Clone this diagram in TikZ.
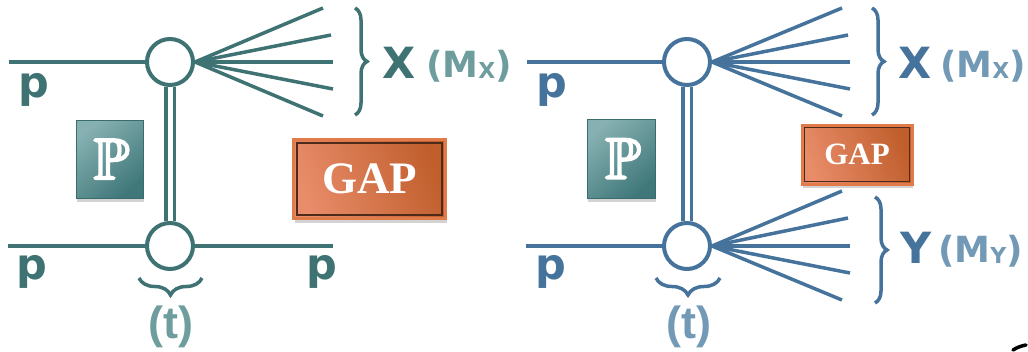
\documentclass[tikz,border=0pt]{standalone}
\usepackage{fontspec}
\setmainfont{Liberation Serif}
\setsansfont{Liberation Sans}
\newfontfamily\labfont{DejaVu Sans}
\usepackage{amssymb}
\usetikzlibrary{decorations.pathreplacing,shadows}
\definecolor{tealD}{HTML}{3F7373}
\definecolor{tealL}{HTML}{6E9D9E}
\definecolor{blueD}{HTML}{45739B}
\definecolor{blueL}{HTML}{7299B5}
\definecolor{pboxL}{HTML}{86B0B1}
\definecolor{pboxD}{HTML}{40787A}
\definecolor{gapL}{HTML}{E88C69}
\definecolor{gapD}{HTML}{C05E2C}
\definecolor{gapEdge}{HTML}{E27B4A}
\definecolor{gapIn}{HTML}{4E2A1B}
\newcommand{\boldP}{{\special{pdf:literal direct 2 Tr 2.2 w 1 1 1 RG}$\mathbb{P}$\special{pdf:literal direct 0 Tr}}}
\begin{document}
\begin{tikzpicture}[x=1pt,y=-1pt,
  vtx/.style={circle, draw, line width=4pt, minimum size=46pt, inner sep=0pt, fill=white},
  leg/.style={line width=4pt},
  ray/.style={line width=3.5pt},
  prop/.style={double=white, double distance=5pt, line width=3.5pt},
  brc/.style={decorate, decoration={brace, amplitude=#1}, line width=3.5pt},
  big/.style={font=\labfont\bfseries\fontsize{43}{43}\selectfont, inner sep=0pt, anchor=base west},
  mid/.style={font=\labfont\bfseries\fontsize{36}{36}\selectfont, inner sep=0pt, anchor=base west},
  tlab/.style={font=\sffamily\bfseries\fontsize{45}{45}\selectfont, inner sep=0pt, anchor=base},
  pbox/.style={rectangle, inner sep=0pt, top color=pboxL, bottom color=pboxD, shading angle=40,
    draw=pboxD!90!black, line width=0.6pt, text=white,
    drop shadow={shadow xshift=1pt, shadow yshift=-4pt, opacity=0.35},
    font=\fontsize{58}{58}\selectfont},
  gbox/.style={rectangle, inner sep=0pt, left color=gapL, right color=gapD, shading angle=110,
    draw=gapEdge, line width=3pt, text=white,
    drop shadow={shadow xshift=1pt, shadow yshift=-4pt, opacity=0.35}},
  gin/.style={draw=gapIn, line width=1.6pt}
]
\useasboundingbox (0,0) rectangle (1028,351);

% ---------------- left diagram ----------------
\begin{scope}[color=tealD]
  \node[vtx] (c1) at (170,62) {};
  \node[vtx] (c2) at (170,246) {};
  \coordinate (a1) at (9,62);
  \coordinate (a2) at (8,246);
  \coordinate (a3) at (333,246);
  \draw[leg] (a1) -- (c1.west);
  \draw[leg] (a2) -- (c2.west);
  \draw[leg] (c2.east) -- (a3);
  \draw[prop] (c1.south) -- (c2.north);
  \coordinate (f1) at (323,8);
  \coordinate (f2) at (331,35);
  \coordinate (f3) at (333,62);
  \coordinate (f4) at (333,89);
  \coordinate (f5) at (323,116);
  \foreach \e in {f1,f2,f3,f4,f5} \draw[ray] (c1.east) -- (\e);
  \coordinate (bx1) at (355,8);
  \coordinate (bx2) at (355,115);
  \draw[brc=12pt] (bx1) -- (bx2);
  \coordinate (bt1) at (202,278);
  \coordinate (bt2) at (139,278);
  \draw[brc=17pt] (bt1) -- (bt2);
  \node[big, text=tealD] (p1) at (18,97) {p};
  \node[big, text=tealD] (p2) at (16,279) {p};
  \node[big, text=tealD] (p3) at (306,279) {p};
  \node[big, text=tealD] (X1) at (382,78) {X};
  \node[mid, text=tealL] (MX1) at (426,77) {(M\raisebox{-1pt}{\fontsize{22}{22}\selectfont X})};
  \node[tlab, text=tealL] (t1) at (171,338) {(t)};
\end{scope}
\node[pbox, minimum width=67pt, minimum height=78pt] (P1) at (109.5,159) {\hspace{4pt}\boldP};
\node[gbox, minimum width=152pt, minimum height=79pt, font=\rmfamily\bfseries\fontsize{45}{45}\selectfont] (G1) at (369.5,179) {GAP};
\draw[gin] ([shift={(5pt,-5pt)}]G1.north west) rectangle ([shift={(-5pt,5pt)}]G1.south east);

% ---------------- right diagram ----------------
\begin{scope}[color=blueD]
  \node[vtx] (c3) at (687,62) {};
  \node[vtx] (c4) at (687,246) {};
  \coordinate (a4) at (527,62);
  \coordinate (a5) at (526,246);
  \draw[leg] (a4) -- (c3.west);
  \draw[leg] (a5) -- (c4.west);
  \draw[prop] (c3.south) -- (c4.north);
  \coordinate (g1) at (842,8);
  \coordinate (g2) at (848,35);
  \coordinate (g3) at (850,62);
  \coordinate (g4) at (850,89);
  \coordinate (g5) at (842,116);
  \foreach \e in {g1,g2,g3,g4,g5} \draw[ray] (c3.east) -- (\e);
  \coordinate (h1) at (842,191);
  \coordinate (h2) at (848,218);
  \coordinate (h3) at (850,246);
  \coordinate (h4) at (850,273);
  \coordinate (h5) at (842,300);
  \foreach \e in {h1,h2,h3,h4,h5} \draw[ray] (c4.east) -- (\e);
  \coordinate (bx3) at (872,8);
  \coordinate (bx4) at (872,115);
  \draw[brc=12pt] (bx3) -- (bx4);
  \coordinate (by1) at (875,197);
  \coordinate (by2) at (875,303);
  \draw[brc=12pt] (by1) -- (by2);
  \coordinate (bt3) at (720,278);
  \coordinate (bt4) at (656,278);
  \draw[brc=17pt] (bt3) -- (bt4);
  \node[big, text=blueD] (p4) at (536,97) {p};
  \node[big, text=blueD] (p5) at (535,279) {p};
  \node[big, text=blueD] (X2) at (898,78) {X};
  \node[mid, text=blueL] (MX2) at (940,77) {(M\raisebox{-1pt}{\fontsize{22}{22}\selectfont X})};
  \node[big, text=blueD] (Y2) at (900,263) {Y};
  \node[mid, text=blueL] (MY2) at (938,262) {(M\raisebox{-1pt}{\fontsize{22}{22}\selectfont Y})};
  \node[tlab, text=blueL] (t2) at (689,338) {(t)};
\end{scope}
\node[pbox, minimum width=68pt, minimum height=79pt] (P2) at (621,158.5) {\hspace{4pt}\boldP};
\node[gbox, minimum width=110pt, minimum height=59pt, font=\rmfamily\bfseries\fontsize{31}{31}\selectfont] (G2) at (857,154.5) {GAP};
\draw[gin] ([shift={(4pt,-4pt)}]G2.north west) rectangle ([shift={(-4pt,4pt)}]G2.south east);

% stray mark in the corner
\coordinate (s1) at (1013,350);
\coordinate (s2) at (1026,345);
\draw[line width=3.5pt, black, line cap=round] (s1) to[bend left=10] (s2);
\end{tikzpicture}
\end{document}
